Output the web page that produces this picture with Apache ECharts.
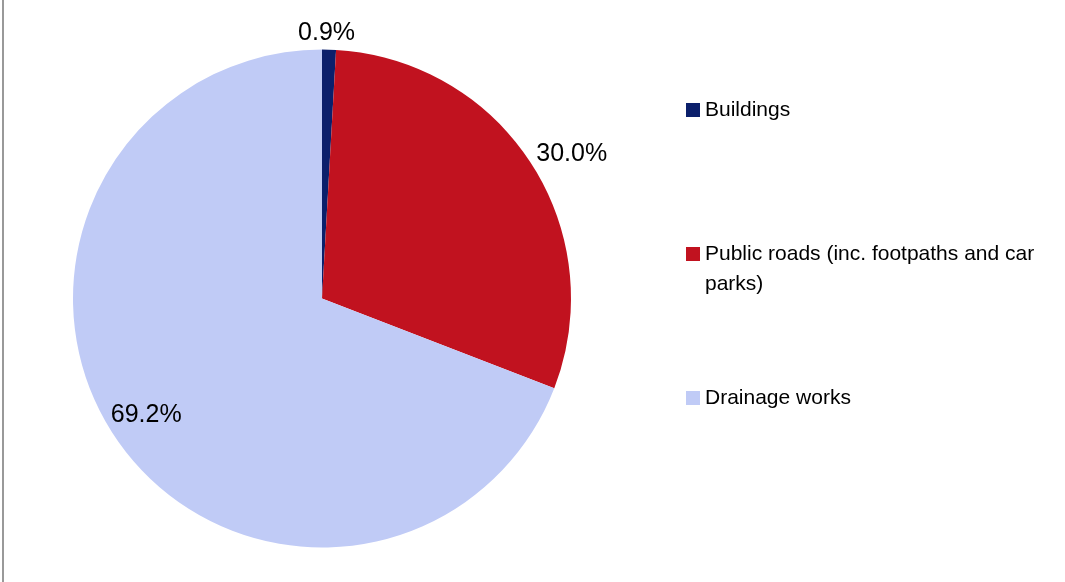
<!DOCTYPE html>
<html>
<head>
<meta charset="utf-8">
<script src="https://cdn.jsdelivr.net/npm/echarts@6/dist/echarts.min.js"></script>
<style>
  html, body { margin: 0; padding: 0; background: #fff; }
  #chart { width: 1065px; height: 582px; }
</style>
</head>
<body>
<div id="chart"></div>
<script>
// Share of spending by works category (percent)
const categories = ['Buildings', 'Public roads (inc. footpaths and car parks)', 'Drainage works'];
const shares = [0.9, 30.0, 69.2];
const colors = ['#0b1f6b', '#c1121f', '#c0cbf6'];

const FONT = "'Liberation Sans Narrow', 'Arial Narrow', 'Liberation Sans', Arial, sans-serif";

// Per-slice label nudges relative to the default outside placement
const labelOffsets = [[-36, -16], [0, -9], [70, -24]];

const chart = echarts.init(document.getElementById('chart'), null, { renderer: 'canvas' });

const pieData = categories.map((name, i) => ({
  name: name,
  value: shares[i],
  itemStyle: { color: colors[i] },
  label: { offset: labelOffsets[i] }
}));

function legendFor(i, top, extra) {
  return Object.assign({
    data: [categories[i]],
    orient: 'vertical',
    left: 686,
    top: top,
    padding: 0,
    icon: 'rect',
    itemWidth: 14,
    itemHeight: 14,
    selectedMode: false,
    textStyle: {
      fontFamily: FONT,
      fontSize: 21,
      color: '#000',
      lineHeight: 30,
      width: 336,
      overflow: 'break'
    }
  }, extra || {});
}

chart.setOption({
  animation: false,
  backgroundColor: '#fff',
  graphic: [{
    type: 'line',
    shape: { x1: 3, y1: 0, x2: 3, y2: 582 },
    style: { stroke: '#999999', lineWidth: 2 }
  }],
  legend: [
    legendFor(0, 95),
    // wrapped entry: a leading blank line keeps the first text line level with the swatch
    legendFor(1, 209, { formatter: name => '\n' + name }),
    legendFor(2, 383)
  ],
  series: [{
    type: 'pie',
    center: [322, 298.5],
    radius: 249,
    startAngle: 90,
    clockwise: true,
    avoidLabelOverlap: false,
    label: {
      show: true,
      position: 'outside',
      formatter: p => p.value.toFixed(1) + '%',
      fontFamily: FONT,
      fontSize: 25,
      color: '#000'
    },
    labelLine: { show: false, length: 0, length2: 0 },
    emphasis: { disabled: true },
    itemStyle: { borderWidth: 0 },
    data: pieData
  }]
});
</script>
</body>
</html>
